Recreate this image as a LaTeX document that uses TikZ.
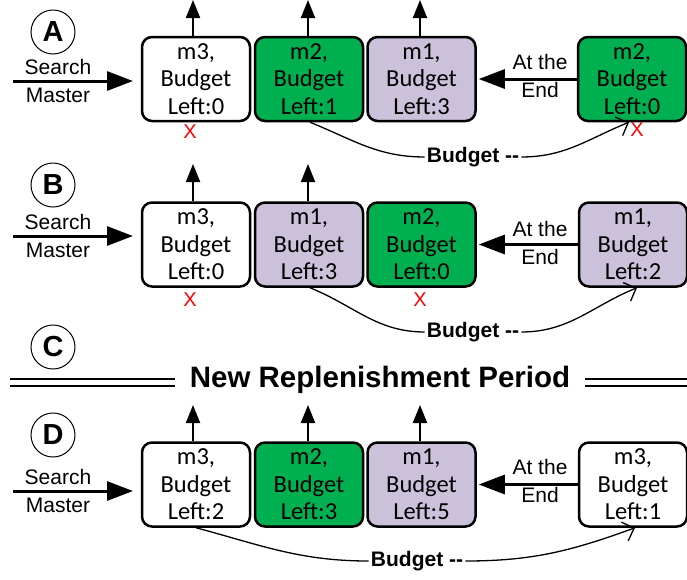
\documentclass[tikz,border=0pt]{standalone}
\usepackage{fontspec}
\setmainfont{Liberation Sans}
\newfontfamily\carlito{Carlito}
\usetikzlibrary{arrows.meta}
\definecolor{mgreen}{RGB}{0,176,80}
\definecolor{mlav}{RGB}{204,193,218}
\tikzset{
  qbox/.style={draw, line width=2.5pt, rounded corners=10pt, minimum width=108pt, minimum height=84pt,
    inner sep=0pt, align=center, font=\carlito\fontsize{24.5}{27.5}\selectfont},
  gbox/.style={qbox, fill=mgreen},
  lbox/.style={qbox, fill=mlav},
  wbox/.style={qbox, fill=white},
  lbl/.style={align=center, inner sep=0pt, font=\fontsize{21}{27.5}\selectfont},
  circ/.style={circle, draw, line width=1pt, minimum size=44pt, inner sep=0pt, font=\bfseries\fontsize{29}{29}\selectfont},
  redx/.style={inner sep=0pt, text=red, font=\fontsize{20}{20}\selectfont},
  budl/.style={inner sep=2pt, font=\bfseries\fontsize{21}{21}\selectfont},
  uarr/.style={line width=2pt, -{Triangle[length=18pt,width=14pt]}},
  sarr/.style={line width=3pt, -{Triangle[length=26pt,width=19pt]}},
  cline/.style={line width=1.3pt},
  carr/.style={line width=1.3pt, -{Straight Barb[length=10pt,width=20pt,line width=1.3pt]}},
  dline/.style={double, double distance=4.6pt, line width=2pt}
}
\begin{document}
\begin{tikzpicture}[x=1pt,y=-1pt]
\useasboundingbox (0,0) rectangle (687,579);

% ===== A =====
\node[circ] (cA) at (53,32) {A};
\node[wbox] (A1) at (196,79) {m3,\\Budget\\Left:0};
\node[gbox] (A2) at (309,79) {m2,\\Budget\\Left:1};
\node[lbox] (A3) at (421.5,79) {m1,\\Budget\\Left:3};
\node[gbox] (A4) at (632,79) {m2,\\Budget\\Left:0};
\node[lbl] (sA) at (58,81) {Search\\Master};
\coordinate (sA0) at (13,81);
\coordinate (sA1) at (133,81);
\draw[sarr] (sA0) -- (sA1);
\node[lbl] (eA) at (540,76) {At the\\End};
\draw[sarr] (A4.west) -- ([xshift=2pt]A3.east);
\coordinate (tA1) at (193,0);
\coordinate (tA2) at (308,0);
\coordinate (tA3) at (420,0);
\draw[uarr] (tA1 |- A1.north) -- (tA1);
\draw[uarr] (tA2 |- A2.north) -- (tA2);
\draw[uarr] (tA3 |- A3.north) -- (tA3);
\node[budl] (bA) at (473,157) {Budget {-}{-}};
\draw[cline] ([xshift=1pt]A2.south) to[out=-22,in=180] (bA.west);
\draw[carr] (bA.east) to[out=0,in=-158] ([xshift=-3pt]A4.south);
\node[redx] (xA1) at (190,132) {X};
\node[redx] (xA4) at (637,130) {X};

% ===== B =====
\node[circ] (cB) at (53,185) {B};
\node[wbox] (B1) at (196,244.5) {m3,\\Budget\\Left:0};
\node[lbox] (B2) at (309,244.5) {m1,\\Budget\\Left:3};
\node[gbox] (B3) at (421.5,244.5) {m2,\\Budget\\Left:0};
\node[lbox] (B4) at (633,244.5) {m1,\\Budget\\Left:2};
\node[lbl] (sB) at (58,236) {Search\\Master};
\coordinate (sB0) at (13,236);
\coordinate (sB1) at (133,236);
\draw[sarr] (sB0) -- (sB1);
\node[lbl] (eB) at (540,243) {At the\\End};
\draw[sarr] (B4.west) -- ([xshift=2pt]B3.east);
\coordinate (tB1) at (193,164);
\coordinate (tB2) at (308,164);
\draw[uarr] (tB1 |- B1.north) -- (tB1);
\draw[uarr] (tB2 |- B2.north) -- (tB2);
\node[budl] (bB) at (473,332) {Budget {-}{-}};
\draw[cline] ([xshift=1pt]B2.south) to[out=-22,in=180] (bB.west);
\draw[carr] (bB.east) to[out=0,in=-158] ([xshift=4pt]B4.south);
\node[redx] (xB1) at (190,300) {X};
\node[redx] (xB3) at (420,300) {X};

% ===== C =====
\node[circ] (cC) at (53,347) {C};
\node[inner ysep=0pt, inner xsep=15pt, anchor=base, font=\bfseries\fontsize{29.5}{30}\selectfont] (np) at (380,387) {New Replenishment Period};
\coordinate (cL) at (10,382.5);
\coordinate (cR) at (687,382.5);
\draw[dline] (cL) -- (cL -| np.west);
\draw[dline] (cR -| np.east) -- (cR);

% ===== D =====
\node[circ] (cD) at (53,435) {D};
\node[wbox] (D1) at (196,484.5) {m3,\\Budget\\Left:2};
\node[gbox] (D2) at (309,484.5) {m2,\\Budget\\Left:3};
\node[lbox] (D3) at (421.5,484.5) {m1,\\Budget\\Left:5};
\node[wbox] (D4) at (633,484.5) {m3,\\Budget\\Left:1};
\node[lbl] (sD) at (58,491) {Search\\Master};
\coordinate (sD0) at (13,491);
\coordinate (sD1) at (133,491);
\draw[sarr] (sD0) -- (sD1);
\node[lbl] (eD) at (540,481) {At the\\End};
\draw[sarr] (D4.west) -- ([xshift=2pt]D3.east);
\coordinate (tD1) at (193,405);
\coordinate (tD2) at (308,405);
\coordinate (tD3) at (420,405);
\draw[uarr] (tD1 |- D1.north) -- (tD1);
\draw[uarr] (tD2 |- D2.north) -- (tD2);
\draw[uarr] (tD3 |- D3.north) -- (tD3);
\node[budl] (bD) at (417,561) {Budget {-}{-}};
\draw[cline] (D1.south) to[out=-15,in=180] (bD.west);
\draw[carr] (bD.east) to[out=0,in=-160] ([xshift=2pt]D4.south);
\end{tikzpicture}
\end{document}
